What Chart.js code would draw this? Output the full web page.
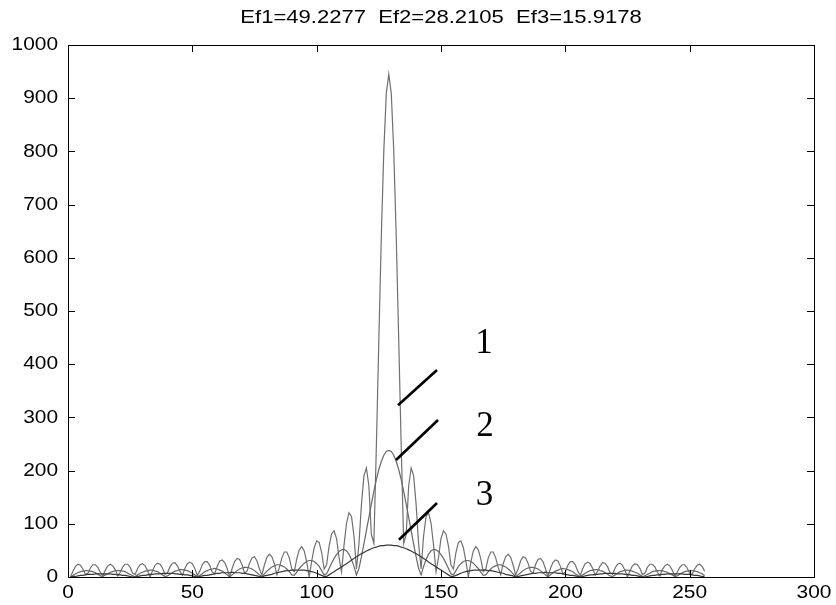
<!DOCTYPE html>
<html>
<head>
<meta charset="utf-8">
<script src="https://cdn.jsdelivr.net/npm/chart.js@4.4.1/dist/chart.umd.min.js"></script>
<style>
  html, body { margin: 0; padding: 0; background: #fff; }
  canvas { display: block; }
</style>
</head>
<body>
<canvas id="grafico" width="836" height="605"></canvas>
<script>
// ── datos (muestras 1..256) ──
const TITULO = 'Ef1=49.2277  Ef2=28.2105  Ef3=15.9178';

const CURVA_1 = [
  0,11,20,24,22,15,5,7,17,23, 23,18,9,2,13,21,24,21,14,2, 9,19,24,24,18,7,5,16,23,25,
  21,12,0,12,22,26,24,17,5,8, 19,26,27,21,11,3,16,25,28,25, 16,3,11,23,29,29,22,9,6,20,
  30,32,27,16,0,16,29,35,33,23, 7,11,26,36,38,30,15,4,23,37, 43,38,25,4,18,36,47,47,36,15,
  10,34,51,57,49,28,0,30,55,68, 65,46,15,23,58,81,87,72,37,10, 60,101,121,114,77,15,62,136,190,205,
  171,80,63,245,445,640,801,909,
  945,
  909,801,640,445,245,63,80,171,205,190, 136,62,15,77,114,121,101,60,10,37,
  72,87,81,58,23,15,46,65,68,55, 30,0,28,49,57,51,34,10,15,36,
  47,47,36,18,4,25,38,43,37,23, 4,15,30,38,36,26,11,7,23,33,
  35,29,16,0,16,27,32,30,20,6, 9,22,29,29,23,11,3,16,25,28,
  25,16,3,11,21,27,26,19,8,5, 17,24,26,22,12,0,12,21,25,23,
  16,5,7,18,24,24,19,9,2,14, 21,24,21,13,2,9,18,23,23,17,
  7,5,15,22,24,20,11
];

const CURVA_2 = [
  0,3,6,8,10,11,12,12,11,10, 8,5,2,1,4,6,9,10,12,12, 12,11,10,7,5,2,1,4,7,9,
  11,12,13,13,11,10,7,4,1,2, 5,8,11,12,14,14,13,12,10,7, 4,1,3,6,10,12,14,15,16,15,
  13,11,8,4,0,4,8,12,15,17, 18,18,17,15,12,8,4,1,6,11, 15,19,21,23,23,21,19,15,10,4,
  3,9,16,21,26,29,31,31,29,25, 20,12,4,6,16,26,35,42,48,51, 52,49,43,33,20,4,16,38,62,87,
  112,137,161,183,202,217,229,236,
  238,
  236,229,217,202,183,161,137,112,87,62, 38,16,4,20,33,43,49,52,51,48,
  42,35,26,16,6,4,12,20,25,29, 31,31,29,26,21,16,9,3,4,10,
  15,19,21,23,23,21,19,15,11,6, 1,4,8,12,15,17,18,18,17,15,
  12,8,4,0,4,8,11,13,15,16, 15,14,12,10,6,3,1,4,7,10,
  12,13,14,14,12,11,8,5,2,1, 4,7,10,11,13,13,12,11,9,7,
  4,1,2,5,7,10,11,12,12,12, 10,9,6,4,1,2,5,8,10,11,
  12,12,11,10,8,6,3
];

const CURVA_3 = [
  0,1,1,2,3,3,4,5,5,5, 6,6,6,6,6,6,6,5,5,4, 4,3,3,2,1,0,0,1,2,3,
  3,4,5,5,6,6,6,7,7,7, 7,7,6,6,5,5,4,4,3,2, 1,0,1,2,3,3,4,5,6,7,
  7,8,8,8,8,9,8,8,8,7, 7,6,5,4,3,2,1,0,2,3, 4,5,7,8,9,10,11,12,12,13,
  13,13,13,13,13,12,11,10,9,7, 5,3,1,1,4,7,10,13,16,19, 22,25,28,32,35,38,41,44,46,49,
  51,53,55,56,58,59,59,60,
  60,
  60,59,59,58,56,55,53,51,49,46, 44,41,38,35,32,28,25,22,19,16,
  13,10,7,4,1,1,3,5,7,9, 10,11,12,13,13,13,13,13,13,12,
  12,11,10,9,8,7,5,4,3,2, 0,1,2,3,4,5,6,7,7,8,
  8,8,9,8,8,8,8,7,7,6, 5,4,3,3,2,1,0,1,2,3,
  4,4,5,5,6,6,7,7,7,7, 7,6,6,6,5,5,4,3,3,2,
  1,0,0,1,2,3,3,4,4,5, 5,6,6,6,6,6,6,6,5,5,
  5,4,3,3,2,1,1
];

const X_TICKS = [0, 50, 100, 150, 200, 250, 300];
const Y_TICKS = [0, 100, 200, 300, 400, 500, 600, 700, 800, 900, 1000];

// etiquetas 1, 2, 3 con su línea guía (en unidades de los ejes)
const ETIQUETAS = [
  { texto: '1', desde: [132.7, 323], hasta: [148.4, 389], pos: [167.3, 438] },
  { texto: '2', desde: [131.9, 220], hasta: [148.8, 295], pos: [167.7, 282] },
  { texto: '3', desde: [133.1, 70],  hasta: [148.4, 139], pos: [167.5, 152] },
];

// ── dibujo ──
const aPuntos = (serie) => serie.map((v, i) => ({ x: i + 1, y: v }));

const SANS = '"Liberation Sans", Arial, sans-serif';

const textoEstirado = (ctx, txt, x, y, sx) => {
  ctx.save();
  ctx.translate(x, y);
  ctx.scale(sx, 1);
  ctx.fillText(txt, 0, 0);
  ctx.restore();
};

const ejesMatlab = {
  id: 'ejesMatlab',
  afterDraw(chart) {
    const { ctx, chartArea: a, scales: { x, y } } = chart;
    ctx.save();

    // caja
    ctx.strokeStyle = '#000';
    ctx.lineWidth = 1;
    ctx.strokeRect(a.left + 0.5, a.top + 0.5, a.right - a.left, a.bottom - a.top);

    // marcas hacia adentro
    const L = 7;
    ctx.beginPath();
    X_TICKS.forEach(v => {
      const px = Math.round(x.getPixelForValue(v)) + 0.5;
      ctx.moveTo(px, a.bottom); ctx.lineTo(px, a.bottom - L);
      ctx.moveTo(px, a.top);    ctx.lineTo(px, a.top + L);
    });
    Y_TICKS.forEach(v => {
      const py = Math.round(y.getPixelForValue(v)) + 0.5;
      ctx.moveTo(a.left, py);  ctx.lineTo(a.left + L, py);
      ctx.moveTo(a.right, py); ctx.lineTo(a.right - L, py);
    });
    ctx.stroke();

    // textos de los ejes
    ctx.fillStyle = '#000';
    ctx.font = '19px ' + SANS;
    ctx.textBaseline = 'middle';
    ctx.textAlign = 'center';
    X_TICKS.forEach(v => textoEstirado(ctx, String(v), x.getPixelForValue(v), a.bottom + 16, 1.1));
    ctx.textAlign = 'right';
    Y_TICKS.forEach(v => textoEstirado(ctx, String(v), a.left - 10, y.getPixelForValue(v), 1.1));

    // título
    ctx.textAlign = 'center';
    ctx.font = '19px ' + SANS;
    textoEstirado(ctx, TITULO, (a.left + a.right) / 2, 18, 1.16);

    // líneas guía y números
    ctx.strokeStyle = '#000';
    ctx.lineWidth = 2.6;
    ETIQUETAS.forEach(e => {
      ctx.beginPath();
      ctx.moveTo(x.getPixelForValue(e.desde[0]), y.getPixelForValue(e.desde[1]));
      ctx.lineTo(x.getPixelForValue(e.hasta[0]), y.getPixelForValue(e.hasta[1]));
      ctx.stroke();
    });
    ctx.font = '35px "Liberation Serif", "Times New Roman", serif';
    ctx.textAlign = 'center';
    ctx.textBaseline = 'middle';
    ETIQUETAS.forEach(e => ctx.fillText(e.texto, x.getPixelForValue(e.pos[0]), y.getPixelForValue(e.pos[1])));

    ctx.restore();
  }
};

const linea = (datos, color, orden) => ({
  data: aPuntos(datos),
  borderColor: color,
  borderWidth: 1.2,
  pointRadius: 0,
  tension: 0,
  fill: false,
  order: orden,
});

new Chart(document.getElementById('grafico'), {
  type: 'line',
  data: {
    datasets: [
      linea(CURVA_1, '#707070', 3),
      linea(CURVA_2, '#686868', 2),
      linea(CURVA_3, '#3a3a3a', 1),
    ]
  },
  options: {
    responsive: false,
    animation: false,
    layout: { padding: { left: 68, right: 22, top: 45, bottom: 28 } },
    plugins: { legend: { display: false }, tooltip: { enabled: false }, title: { display: false } },
    scales: {
      x: { type: 'linear', display: false, min: 0, max: 300 },
      y: { type: 'linear', display: false, min: 0, max: 1000 },
    }
  },
  plugins: [ejesMatlab]
});
</script>
</body>
</html>
